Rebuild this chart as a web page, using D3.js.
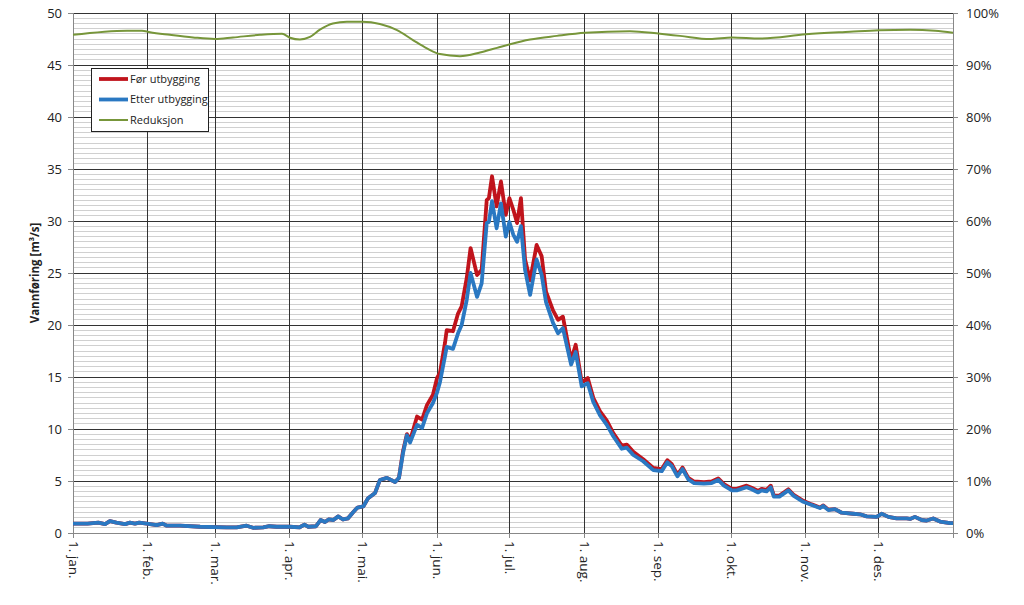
<!DOCTYPE html>
<html>
<head>
<meta charset="utf-8">
<script src="https://d3js.org/d3.v7.min.js"></script>
<style>
  body { margin: 0; background: #fff; }
  text { font-family: "Open Sans", "Liberation Sans", sans-serif; fill: #222; }
  .tick text { font-size: 13px; fill: #222; }
  .legend text { font-size: 11px; }
  .ytitle { font-size: 11.5px; font-weight: bold; }
  path.domain { display: none; }
</style>
</head>
<body>
<script>
// day of year (0 = 1. jan.) for the flow samples
const days = [0, 6, 10.5, 13.3, 15.3, 18, 21.6, 23.6, 25.7, 27.5, 30.6, 34.7, 37.2, 38.9, 44.4, 52.7,
  63.7, 67.9, 72, 74.7, 78.9, 81.4, 84.5, 90, 94, 96, 97.6, 100.8, 102.7, 104.5, 106, 108, 110, 112,
  114, 116, 118, 120.4, 122.4, 125.3, 127.3, 130.2, 133.6, 135.2, 136.9, 138.5, 139.8, 142.7, 144.8,
  146.8, 149.3, 151, 152.2, 154.3, 155, 157.6, 159.7, 161.2, 163.3, 164.9, 167.6, 169.5, 171.6, 172.5,
  173.8, 175.7, 177.5, 179.5, 181, 182.6, 184.2, 185.8, 187.5, 189.6, 192.3, 194.4, 196.2, 199.1,
  201.2, 203.2, 206.6, 208.5, 211, 213.5, 215.8, 218.6, 221.4, 224.1, 227.6, 229.7, 232.4, 236.5,
  240.7, 244.2, 246.5, 248.3, 250.7, 252.8, 255.2, 257.6, 261.7, 264.9, 267.6, 270, 273.3, 275.3,
  279.4, 281.5, 284.2, 285.6, 287.7, 289.4, 290.7, 293, 296.7, 298.8, 302.9, 306.4, 309.8, 311.2,
  313.3, 316, 318.8, 323.6, 326.4, 329.2, 333.3, 335.4, 338.2, 341.6, 345.8, 347.2, 349.2, 352,
  354.1, 356.8, 359.6, 363.8, 365];

const etter = [0.9, 0.9, 1.0, 0.85, 1.15, 1.0, 0.85, 1.0, 0.9, 1.0, 0.9, 0.75, 0.9, 0.7, 0.7, 0.6,
  0.55, 0.55, 0.7, 0.5, 0.55, 0.65, 0.6, 0.6, 0.55, 0.8, 0.6, 0.65, 1.25, 1.05, 1.3, 1.25, 1.6, 1.3,
  1.4, 1.95, 2.45, 2.55, 3.35, 3.85, 5.1, 5.3, 4.9, 5.3, 7.7, 9.4, 8.7, 10.4, 10.1,
  11.5, 12.5, 13.5, 14.5, 17.0, 17.9, 17.7, 19.2, 20.0, 22.4, 25.0, 22.7, 24.0, 29.8, 29.9,
  31.9, 29.3, 31.7, 28.5, 29.9, 28.7, 28.0, 29.5, 25.3, 22.9, 26.3, 24.8, 22.2, 20.2,
  19.2, 19.7, 16.2, 17.4, 14.1, 14.4, 12.6, 11.3, 10.4, 9.3, 8.1, 8.2, 7.5, 6.9,
  6.05, 5.95, 6.8, 6.45, 5.45, 6.15, 5.15, 4.8, 4.75, 4.8, 5.1, 4.55, 4.1, 4.1,
  4.4, 4.2, 3.9, 4.1, 4.0, 4.4, 3.5, 3.5, 4.1, 3.6, 3.0, 2.7, 2.4, 2.6,
  2.2, 2.3, 1.95, 1.85, 1.8, 1.6, 1.55, 1.85, 1.55, 1.4, 1.4, 1.35, 1.55, 1.25,
  1.2, 1.4, 1.1, 0.95, 0.95];

const foer = [0.9, 0.9, 1.0, 0.85, 1.15, 1.0, 0.85, 1.0, 0.9, 1.0, 0.9, 0.75, 0.9, 0.7, 0.7, 0.6,
  0.55, 0.55, 0.7, 0.5, 0.55, 0.65, 0.6, 0.6, 0.55, 0.8, 0.6, 0.65, 1.25, 1.05, 1.3, 1.25, 1.6, 1.3,
  1.4, 1.95, 2.45, 2.55, 3.35, 3.85, 5.1, 5.3, 4.9, 5.3, 7.9, 9.5, 8.9, 11.2, 10.9,
  12.3, 13.3, 14.9, 15.4, 18.3, 19.5, 19.4, 21.1, 21.8, 24.5, 27.4, 24.8, 25.3, 32.0, 32.2,
  34.3, 31.4, 33.8, 30.6, 32.2, 31.1, 29.8, 32.2, 26.3, 24.3, 27.7, 26.6, 23.2, 21.4,
  20.5, 20.8, 16.6, 18.1, 14.5, 14.9, 13.0, 11.7, 10.8, 9.6, 8.4, 8.5, 7.8, 7.1,
  6.25, 6.15, 7.0, 6.65, 5.6, 6.3, 5.3, 4.95, 4.9, 4.95, 5.25, 4.7, 4.25, 4.25,
  4.55, 4.35, 4.05, 4.25, 4.15, 4.55, 3.6, 3.6, 4.2, 3.7, 3.1, 2.75, 2.45, 2.65,
  2.25, 2.3, 1.95, 1.85, 1.8, 1.6, 1.55, 1.85, 1.55, 1.4, 1.4, 1.35, 1.55, 1.25,
  1.2, 1.4, 1.1, 0.95, 0.95];

// reduction (right axis, %)
const redDays = [0, 22.4, 28.6, 31.9, 40.2, 49.8, 58.9, 66.4, 77.6, 86.7, 90, 94.1, 98.3, 102.4,
  107.8, 113.6, 119.9, 127.3, 134.4, 141, 146.8, 152.2, 160.5, 168.8, 175.9, 181.3, 189.6, 200.7,
  212.4, 231, 243.5, 251.8, 264.2, 273.4, 285, 304, 322.3, 334.3, 347.2, 357.6, 365];
const reduksjon = [95.8, 96.6, 96.6, 96.3, 95.8, 95.3, 95.0, 95.3, 95.8, 96.0, 95.25, 94.9, 95.4, 96.8,
  98.0, 98.3, 98.3, 97.9, 96.7, 94.8, 93.2, 92.1, 91.7, 92.4, 93.3, 94.0, 94.9, 95.6,
  96.2, 96.5, 96.0, 95.6, 95.0, 95.3, 95.1, 95.9, 96.4, 96.7, 96.8, 96.6, 96.2];

const monthStarts = [0, 31, 59, 90, 120, 151, 181, 212, 243, 273, 304, 334];
const monthLabels = ["1. jan.", "1. feb.", "1. mar.", "1. apr.", "1. mai.", "1. jun.",
  "1. jul.", "1. aug.", "1. sep.", "1. okt.", "1. nov.", "1. des."];
const leftTicks = [0, 5, 10, 15, 20, 25, 30, 35, 40, 45, 50];
const rightTicks = [0, 10, 20, 30, 40, 50, 60, 70, 80, 90, 100];
const seriesNames = ["Før utbygging", "Etter utbygging", "Reduksjon"];

const width = 1024, height = 605;
const margin = { top: 13, right: 71, bottom: 72, left: 73 };

const svg = d3.select("body").append("svg")
  .attr("width", width).attr("height", height);

const x = d3.scaleLinear().domain([0, 365]).range([margin.left, width - margin.right]);
const y = d3.scaleLinear().domain([0, 50]).range([height - margin.bottom, margin.top]);
const y2 = d3.scaleLinear().domain([0, 100]).range([height - margin.bottom, margin.top]);

// minor gridlines every 0.5
const minor = d3.range(0.5, 50, 0.5).filter(v => v % 5 !== 0);
svg.append("g").selectAll("line").data(minor).enter().append("line")
  .attr("x1", x(0)).attr("x2", x(365))
  .attr("y1", d => y(d)).attr("y2", d => y(d))
  .attr("stroke", "#d0d0d0").attr("stroke-width", 1)
  .attr("shape-rendering", "crispEdges");

// major horizontal gridlines
svg.append("g").selectAll("line").data(leftTicks.filter(d => d > 0)).enter().append("line")
  .attr("x1", x(0)).attr("x2", x(365))
  .attr("y1", d => y(d)).attr("y2", d => y(d))
  .attr("stroke", "#333").attr("stroke-width", 1)
  .attr("shape-rendering", "crispEdges");

// vertical month lines
svg.append("g").selectAll("line").data(monthStarts.slice(1)).enter().append("line")
  .attr("x1", d => x(d)).attr("x2", d => x(d))
  .attr("y1", y(0)).attr("y2", y(50))
  .attr("stroke", "#333").attr("stroke-width", 1)
  .attr("shape-rendering", "crispEdges");

// left axis
const yAxis = d3.axisLeft(y).tickValues(leftTicks).tickSize(5).tickPadding(6);
const gl = svg.append("g").attr("transform", `translate(${margin.left},0)`).call(yAxis);
gl.selectAll(".tick line").attr("stroke", "#888");
svg.append("line").attr("x1", x(0)).attr("x2", x(0)).attr("y1", y(0)).attr("y2", y(50))
  .attr("stroke", "#888").attr("shape-rendering", "crispEdges");

// right axis
const yAxis2 = d3.axisRight(y2).tickValues(rightTicks).tickSize(5).tickPadding(8)
  .tickFormat(d => d + "%");
const gr = svg.append("g").attr("transform", `translate(${x(365)},0)`).call(yAxis2);
gr.selectAll(".tick line").attr("stroke", "#888");
svg.append("line").attr("x1", x(365)).attr("x2", x(365)).attr("y1", y(0)).attr("y2", y(50))
  .attr("stroke", "#888").attr("shape-rendering", "crispEdges");

// bottom axis
svg.append("line").attr("x1", x(0)).attr("x2", x(365)).attr("y1", y(0)).attr("y2", y(0))
  .attr("stroke", "#888").attr("shape-rendering", "crispEdges");
svg.append("g").selectAll("line").data(monthStarts.concat([365])).enter().append("line")
  .attr("x1", d => x(d)).attr("x2", d => x(d))
  .attr("y1", y(0)).attr("y2", y(0) + 5)
  .attr("stroke", "#888").attr("shape-rendering", "crispEdges");
svg.append("g").selectAll("text").data(monthStarts).enter().append("text")
  .attr("transform", (d, i) => `translate(${x(d) - 4.5},${y(0) + 8}) rotate(90)`)
  .style("font-size", "13.5px")
  .text((d, i) => monthLabels[i]);

// y title
svg.append("text").attr("class", "ytitle")
  .attr("transform", `translate(39,${(y(0) + y(50)) / 2}) rotate(-90)`)
  .style("text-anchor", "middle")
  .text("Vannføring [m³/s]");

// series
const flowLine = vals => d3.line()
  .x((d, i) => x(days[i])).y((d, i) => y(vals[i]))(vals);

svg.append("path").attr("d", flowLine(foer))
  .attr("fill", "none").attr("stroke", "#c0141c").attr("stroke-width", 3.8)
  .attr("stroke-linejoin", "round");
svg.append("path").attr("d", flowLine(etter))
  .attr("fill", "none").attr("stroke", "#2a78c2").attr("stroke-width", 3.8)
  .attr("stroke-linejoin", "round");
svg.append("path")
  .attr("d", d3.line().x((d, i) => x(redDays[i])).y(d => y2(d)).curve(d3.curveMonotoneX)(reduksjon))
  .attr("fill", "none").attr("stroke", "#77963a").attr("stroke-width", 2);

// legend
const colors = ["#c0141c", "#2a78c2", "#77963a"];
const widths = [3.8, 3.8, 2];
const lg = svg.append("g").attr("class", "legend");
lg.append("rect").attr("x", 91).attr("y", 68).attr("width", 117).attr("height", 63)
  .attr("fill", "#fff").attr("stroke", "#222").attr("stroke-width", 1)
  .attr("shape-rendering", "crispEdges");
seriesNames.forEach((name, i) => {
  const yy = 79 + i * 20.5;
  lg.append("line").attr("x1", 99).attr("x2", 128).attr("y1", yy).attr("y2", yy)
    .attr("stroke", colors[i]).attr("stroke-width", widths[i]);
  lg.append("text").attr("x", 130).attr("y", yy + 3.8).text(name);
});
</script>
</body>
</html>
